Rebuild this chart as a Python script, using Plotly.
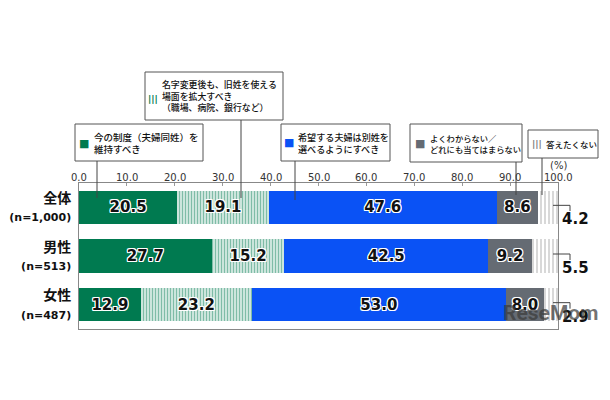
import plotly.graph_objects as go

# data (%)
groups = ["全体", "男性", "女性"]
group_n = ["(n=1,000)", "(n=513)", "(n=487)"]
keep_current = [20.5, 27.7, 12.9]
expand_old_name = [19.1, 15.2, 23.2]
allow_separate = [47.6, 42.5, 53.0]
not_sure = [8.6, 9.2, 8.0]
no_answer = [4.2, 5.5, 2.9]
x_ticks = [0, 10, 20, 30, 40, 50, 60, 70, 80, 90, 100]

legend_lines = [
    ["今の制度（夫婦同姓）を", "維持すべき"],
    ["名字変更後も、旧姓を使える", "場面を拡大すべき", "（職場、病院、銀行など）"],
    ["希望する夫婦は別姓を", "選べるようにすべき"],
    ["よくわからない／", "どれにも当てはまらない"],
    ["答えたくない"],
]

GREEN = "#007a50"
BLUE = "#0a52f5"
GRAY = "#656b73"
STRIPE_GRAY = "#7c7c7c"
NUM_FONT = "DejaVu Sans, Noto Sans CJK JP"
JP_FONT = "Noto Sans CJK JP"
OUTLINE = ("1px 0 0 #fff, -1px 0 0 #fff, 0 1px 0 #fff, 0 -1px 0 #fff, "
           "1px 1px 0 #fff, -1px -1px 0 #fff, 1px -1px 0 #fff, -1px 1px 0 #fff")

series = [keep_current, expand_old_name, allow_separate, not_sure, no_answer]
markers = [
    dict(color=GREEN),
    dict(color="white", pattern=dict(shape="|", fgcolor=GREEN, bgcolor="white",
                                     size=3, solidity=0.6)),
    dict(color=BLUE),
    dict(color=GRAY),
    dict(color="white", pattern=dict(shape="|", fgcolor=STRIPE_GRAY, bgcolor="white",
                                     size=4, solidity=0.3)),
]
inside_text = [True, True, True, True, False]

fig = go.Figure()
for vals, mk, show in zip(series, markers, inside_text):
    mk = dict(mk, line=dict(width=0))
    fig.add_trace(go.Bar(
        x=vals, y=groups, orientation="h", marker=mk,
        texttemplate="<b>%{x:.1f}</b>" if show else None,
        textposition="inside" if show else "none",
        insidetextanchor="middle", textangle=0, constraintext="none",
        textfont=dict(family=NUM_FONT, size=15, color="#111", shadow=OUTLINE),
        hoverinfo="skip", showlegend=False,
    ))

# the page adds an 8px body margin, so the figure is 8px smaller
PAGE_PAD = 8
W, H = 610 - PAGE_PAD, 400 - PAGE_PAD
# plot-area frame in reference page pixels, used to place the callout boxes
L, R, T, B = 79, 558, 183, 329
def px(x):
    return (x - L) / (R - L)
def py(y):
    return (B - y) / (B - T)

# callout boxes: box x0, y0, x1, y1, symbol pos, text x, leader x, leader end y
boxes = [
    dict(box=(75, 124, 203, 161), sym=(84, 143), tx=92, lead=(97, 198),
         symbol="■", color=GREEN, fs=9.5),
    dict(box=(145, 72, 283, 120), sym=(153, 99), tx=160, lead=(241, 198),
         symbol="<b>|||</b>", color=GREEN, fs=8.9),
    dict(box=(281, 124, 390, 161), sym=(289, 142), tx=296, lead=(295, 200),
         symbol="■", color=BLUE, fs=9.1),
    dict(box=(410, 124, 522, 162), sym=(420, 143), tx=428, lead=(516, 195),
         symbol="■", color=GRAY, fs=8.3),
    dict(box=(528, 130, 598, 158), sym=(537, 144), tx=544, lead=(542, 195),
         symbol="<b>|||</b>", color=STRIPE_GRAY, fs=8.5),
]

shapes = []
annotations = []
for b, lines in zip(boxes, legend_lines):
    x0, y0, x1, y1 = b["box"]
    shapes.append(dict(type="rect", xref="paper", yref="paper",
                       x0=px(x0), x1=px(x1), y0=py(y1), y1=py(y0),
                       line=dict(color="#555", width=1), fillcolor="white"))
    lx, ly = b["lead"]
    shapes.append(dict(type="line", xref="paper", yref="paper",
                       x0=px(lx), x1=px(lx), y0=py(y1), y1=py(ly),
                       line=dict(color="#444", width=1)))
    sx, sy = b["sym"]
    annotations.append(dict(xref="paper", yref="paper", x=px(sx), y=py(sy),
                            xanchor="center", yanchor="middle",
                            text=b["symbol"], showarrow=False,
                            font=dict(size=11 if b["symbol"] == "■" else 9,
                                      color=b["color"], family=NUM_FONT)))
    annotations.append(dict(xref="paper", yref="paper", x=px(b["tx"]),
                            y=py((y0 + y1) / 2), xanchor="left", yanchor="middle",
                            align="left", text="<br>".join(lines), showarrow=False,
                            font=dict(size=b["fs"], color="#111", family=JP_FONT,
                                      weight=500)))

# x tick labels sit right on the top frame line
for t in x_ticks:
    annotations.append(dict(xref="x", yref="paper", x=t, y=py(177),
                            xanchor="center", yanchor="middle", text=f"{t:.1f}",
                            showarrow=False,
                            font=dict(size=10, color="#333", family=NUM_FONT)))

# outside labels for the last (thin) segment with small brackets
unit = 1 / (B - T)
for i, (g, v) in enumerate(zip(groups, no_answer)):
    yc = 1 - (i + 0.5) / 3
    shapes.append(dict(type="path", xref="paper", yref="paper",
                       path=f"M {px(553)},{yc + 2 * unit} L {px(570)},{yc + 2 * unit} "
                            f"L {px(570)},{yc - 4 * unit}",
                       line=dict(color="#444", width=1)))
    annotations.append(dict(xref="x", yref="y", x=100, y=g, xanchor="left",
                            xshift=2, yshift=-12, text=f"<b>{v:.1f}</b>",
                            showarrow=False,
                            font=dict(size=15, color="#111", family=NUM_FONT,
                                      shadow=OUTLINE)))

annotations.append(dict(xref="x", yref="paper", x=100, y=py(165),
                        xanchor="center", yanchor="middle", text="(%)",
                        showarrow=False, font=dict(size=10, color="#333", family=NUM_FONT)))
annotations.append(dict(xref="paper", yref="paper", x=px(550), y=py(313),
                        xanchor="center", yanchor="middle",
                        text="<b>ReseMom</b>", showarrow=False,
                        font=dict(size=21, color="rgba(60,60,60,0.72)", family="Roboto")))

ticktext = [f"<b>{g}</b><br><span style='font-size:11px'><b>{n}</b></span>"
            for g, n in zip(groups, group_n)]

fig.update_layout(
    width=W, height=H,
    margin=dict(l=L - PAGE_PAD, r=610 - R, t=T - PAGE_PAD, b=400 - B, pad=0),
    barmode="stack", bargap=0.32,
    plot_bgcolor="white", paper_bgcolor="white",
    shapes=shapes, annotations=annotations,
    xaxis=dict(side="top", range=[0, 100], tickvals=x_ticks,
               showticklabels=False, automargin=False,
               ticks="inside", ticklen=3, tickcolor="#999",
               showline=True, mirror=True, linecolor="#888", linewidth=1,
               showgrid=False, zeroline=False),
    yaxis=dict(tickvals=groups, ticktext=ticktext, autorange="reversed",
               automargin=False, ticklabelstandoff=4,
               showline=True, mirror=True, linecolor="#888", linewidth=1,
               showgrid=False, zeroline=False, ticks="",
               tickfont=dict(size=14, color="#111", family=NUM_FONT)),
)

fig.write_html("out.html")
